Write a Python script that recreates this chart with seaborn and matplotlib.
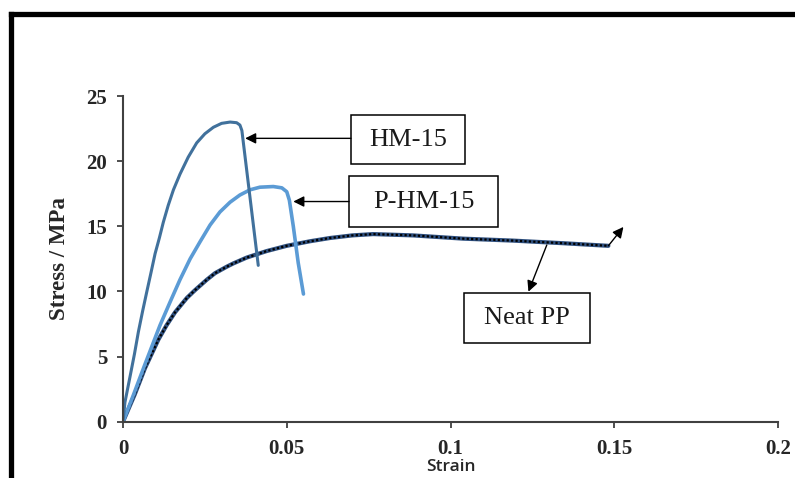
import numpy as np
import pandas as pd
import matplotlib
matplotlib.use("Agg")
import matplotlib.pyplot as plt
from matplotlib.lines import Line2D
from matplotlib.patches import Rectangle
import seaborn as sns

# ---- data ----
hm_strain = [0, 0.0006, 0.0021, 0.0035, 0.0047, 0.0060, 0.0072, 0.0086, 0.0098,
             0.0111, 0.0123, 0.0138, 0.0154, 0.0174, 0.0199, 0.0225, 0.0250,
             0.0276, 0.0301, 0.0327, 0.0347, 0.0357, 0.0363, 0.0413]
hm_stress = [0, 1.5, 3.4, 5.2, 6.9, 8.5, 9.9, 11.5, 12.9,
             14.1, 15.3, 16.6, 17.8, 19.0, 20.3, 21.4, 22.1,
             22.6, 22.9, 23.0, 22.95, 22.77, 22.35, 12.0]

php_strain = [0, 0.0031, 0.0067, 0.0090, 0.0113, 0.0144, 0.0174, 0.0205, 0.0235,
              0.0266, 0.0296, 0.0327, 0.0357, 0.0388, 0.0418, 0.0459, 0.0485,
              0.0500, 0.0508, 0.0520, 0.0535, 0.0551]
php_stress = [0, 2.0, 4.4, 5.9, 7.4, 9.2, 10.9, 12.5, 13.8,
              15.1, 16.1, 16.85, 17.4, 17.8, 18.0, 18.05, 17.95,
              17.65, 17.0, 15.0, 12.2, 9.8]

pp_strain = [0, 0.0036, 0.0067, 0.0108, 0.0133, 0.0159, 0.0195, 0.0220, 0.0256,
             0.0281, 0.0317, 0.0337, 0.0378, 0.0439, 0.0500, 0.0571, 0.0632,
             0.0700, 0.0764, 0.0886, 0.1039, 0.1191, 0.1344, 0.1482]
pp_stress = [0, 2.1, 4.1, 6.3, 7.4, 8.4, 9.5, 10.1, 10.9,
             11.4, 11.9, 12.15, 12.6, 13.1, 13.5, 13.85, 14.1,
             14.3, 14.4, 14.3, 14.05, 13.9, 13.7, 13.5]

x_ticks = [0, 0.05, 0.1, 0.15, 0.2]
x_tick_labels = ["0", "0.05", "0.1", "0.15", "0.2"]
y_ticks = [0, 5, 10, 15, 20, 25]
y_tick_labels = ["0", "5", "10", "15", "20", "25"]
labels = ["HM-15", "P-HM-15", "Neat PP"]

sns.set_theme(style="white")
plt.rcParams["font.family"] = ["Liberation Serif", "DejaVu Serif"]

fig = plt.figure(figsize=(7.95, 4.78), dpi=100)
W, H = 795, 478
ax = fig.add_axes([123 / W, 1 - 421.7 / H, (778 - 123) / W, (421.7 - 96) / H])

df_hm = pd.DataFrame({"Strain": hm_strain, "Stress": hm_stress})
df_php = pd.DataFrame({"Strain": php_strain, "Stress": php_stress})
df_pp = pd.DataFrame({"Strain": pp_strain, "Stress": pp_stress})

sns.lineplot(data=df_pp, x="Strain", y="Stress", sort=False, estimator=None,
             color="#2e4f7e", lw=3.0, ax=ax)
sns.lineplot(data=df_pp, x="Strain", y="Stress", sort=False, estimator=None,
             color="black", lw=1.6, ls=(0, (1, 1)), ax=ax)
sns.lineplot(data=df_php, x="Strain", y="Stress", sort=False, estimator=None,
             color="#5b9bd5", lw=2.6, ax=ax)
sns.lineplot(data=df_hm, x="Strain", y="Stress", sort=False, estimator=None,
             color="#41719c", lw=2.2, ax=ax)

ax.set_xlim(0, 0.2)
ax.set_ylim(0, 25)
ax.set_xticks(x_ticks)
ax.set_xticklabels(x_tick_labels)
ax.set_yticks(y_ticks)
ax.set_yticklabels(y_tick_labels)
for lab in ax.get_xticklabels() + ax.get_yticklabels():
    lab.set_fontweight("bold")
    lab.set_fontsize(15)
    lab.set_color("#262626")

for s in ["top", "right"]:
    ax.spines[s].set_visible(False)
for s in ["left", "bottom"]:
    ax.spines[s].set_color("#404040")
    ax.spines[s].set_linewidth(1.5)
ax.tick_params(axis="x", direction="out", length=4.5, width=1.3, color="#404040", pad=8)
ax.tick_params(axis="y", direction="out", length=4.5, width=1.3, color="#404040", pad=7)
ax.tick_params(bottom=True, left=True)

ax.set_xlabel("Strain", fontsize=12.5, fontweight="semibold", family=["Open Sans", "DejaVu Sans"],
              color="#262626", labelpad=0)
ax.set_ylabel("Stress / MPa", fontsize=16.5, fontweight="bold", color="#262626", labelpad=12)

# label boxes: (text, lower-left, width, height, text centre)
boxes = [
    (labels[0], (0.0696, 19.75), 0.0348, 3.79, (0.0870, 21.66)),
    (labels[1], (0.0690, 14.97), 0.0456, 3.89, (0.0919, 16.85)),
    (labels[2], (0.1041, 6.06), 0.0385, 3.84, (0.1233, 7.95)),
]
for text, xy, w, h, c in boxes:
    ax.add_patch(Rectangle(xy, w, h, facecolor="white", edgecolor="black", lw=1.1, zorder=5))
    ax.text(c[0], c[1], text, fontsize=19, ha="center", va="center", color="#1a1a1a", zorder=6)

arrow_kw = dict(arrowstyle="-|>", color="black", lw=1.0, mutation_scale=16,
                shrinkA=0, shrinkB=0)
ax.annotate("", xy=(0.0373, 21.75), xytext=(0.0696, 21.75), arrowprops=arrow_kw, zorder=6)
ax.annotate("", xy=(0.0520, 16.9), xytext=(0.0690, 16.9), arrowprops=arrow_kw, zorder=6)
ax.annotate("", xy=(0.1238, 9.98), xytext=(0.1294, 13.56), arrowprops=arrow_kw, zorder=6)
ax.annotate("", xy=(0.1528, 14.95), xytext=(0.1482, 13.5), arrowprops=arrow_kw, zorder=6)

# outer frame (left and top edges visible)
fig.add_artist(Line2D([10.5 / W, 10.5 / W], [0, 1 - 14 / H], transform=fig.transFigure,
                      color="black", lw=3.8, solid_capstyle="projecting"))
fig.add_artist(Line2D([10.5 / W, 1.0], [1 - 14 / H, 1 - 14 / H], transform=fig.transFigure,
                      color="black", lw=3.8, solid_capstyle="projecting"))

fig.savefig("out.png", dpi=100)
